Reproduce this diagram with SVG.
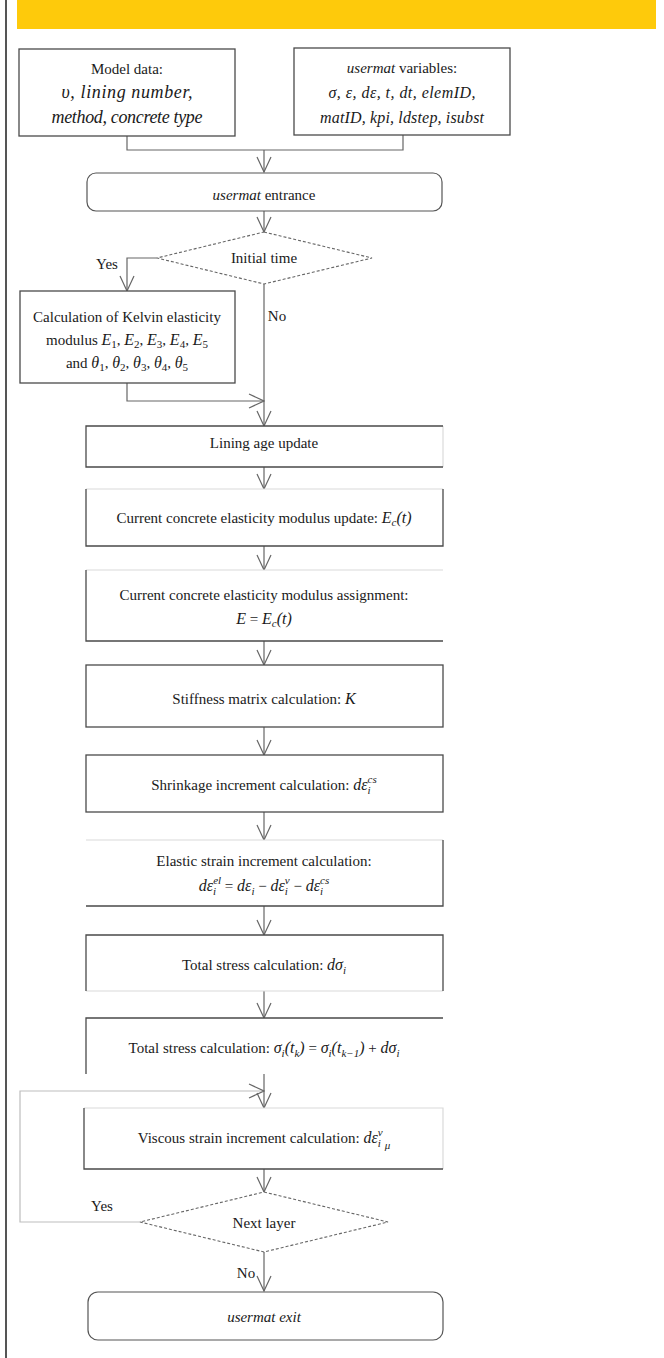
<svg xmlns="http://www.w3.org/2000/svg" width="664" height="1358" viewBox="0 0 664 1358">
<style>
.bg{fill:#fff;stroke:none}
.edge{fill:none;stroke:#4a4a4a;stroke-width:1.3}
.faint{fill:none;stroke:#dadada;stroke-width:1.2}
.rr{fill:#fff;stroke:#555;stroke-width:1.2}
.dia{fill:#fff;stroke:#666;stroke-width:1.1;stroke-dasharray:3 2}
.t{font-family:"Liberation Serif","Times New Roman",serif;font-size:15px;fill:#1a1a1a;text-anchor:middle}
.mt{font-family:"Liberation Serif","Times New Roman",serif;font-size:18px;font-style:italic;fill:#1a1a1a;text-anchor:middle}
.mr{font-size:16px}
.m{font-style:italic;font-size:16px}
.s{font-size:11px}
.conn{fill:none;stroke:#666;stroke-width:1.2}
.loop{fill:none;stroke:#bdbdbd;stroke-width:1.2}
</style>
<defs>
<marker id="arr" viewBox="-16 -8 17 16" refX="0" refY="0" markerWidth="17" markerHeight="16" markerUnits="userSpaceOnUse" orient="auto">
<path d="M-15,-7 L0,0 L-15,7" fill="none" stroke="#666" stroke-width="1.2"/>
</marker>
</defs>

<rect x="17" y="0" width="639" height="29" fill="#FECA0B"/>
<line x1="6" y1="0" x2="6" y2="1358" stroke="#555" stroke-width="2"/>

<g id="connectors">
<path class="conn" d="M127,136 V150 H403 V135"/>
<path class="conn" d="M264,150 V172" marker-end="url(#arr)"/>
<path class="conn" d="M264,211 V232" marker-end="url(#arr)"/>
<path class="conn" d="M157,258 H127 V291" marker-end="url(#arr)"/>
<path class="conn" d="M127,383 V401 H264" marker-end="url(#arr)"/>
<path class="conn" d="M264,284 V426" marker-end="url(#arr)"/>
<path class="conn" d="M264,467 V489" marker-end="url(#arr)"/>
<path class="conn" d="M264,546 V570" marker-end="url(#arr)"/>
<path class="conn" d="M264,641 V665" marker-end="url(#arr)"/>
<path class="conn" d="M264,727 V755" marker-end="url(#arr)"/>
<path class="conn" d="M264,812 V840" marker-end="url(#arr)"/>
<path class="conn" d="M264,906 V935" marker-end="url(#arr)"/>
<path class="conn" d="M264,991 V1018" marker-end="url(#arr)"/>
<path class="conn" d="M264,1074 V1108" marker-end="url(#arr)"/>
<path class="loop" d="M140,1222 H20 V1091 H264" marker-end="url(#arr)"/>
<path class="conn" d="M264,1169 V1192" marker-end="url(#arr)"/>
<path class="conn" d="M264,1252 V1291" marker-end="url(#arr)"/>
<text class="t" x="107" y="269">Yes</text>
<text class="t" x="277" y="321">No</text>
<text class="t" x="102" y="1211">Yes</text>
<text class="t" x="246" y="1278">No</text>
</g>

<g id="model-data">
<rect class="bg" x="19" y="49" width="216" height="87"/>
<rect class="edge" x="19" y="49" width="216" height="87"/>
<text class="t" x="127" y="74">Model data:</text>
<text class="mt" x="127" y="98" textLength="131" lengthAdjust="spacing">υ, lining number,</text>
<text class="mt" x="127" y="123" textLength="151" lengthAdjust="spacing">method, concrete type</text>
</g>

<g id="usermat-variables">
<rect class="bg" x="294" y="48" width="216" height="87"/>
<rect class="edge" x="294" y="48" width="216" height="87"/>
<text class="t" x="402" y="73"><tspan font-style="italic">usermat</tspan> variables:</text>
<text class="mt mr" x="402" y="98" textLength="147" lengthAdjust="spacing">σ, ε, dε, t, dt, elemID,</text>
<text class="mt mr" x="402" y="123" textLength="164" lengthAdjust="spacing">matID, kpi, ldstep, isubst</text>
</g>

<g id="usermat-entrance">
<rect class="rr" x="87" y="173" width="355" height="38" rx="9"/>
<text class="t" x="264" y="200"><tspan font-style="italic">usermat</tspan> entrance</text>
</g>

<g id="initial-time">
<polygon class="dia" points="264,232 372,258 264,284 157,258"/>
<text class="t" x="264" y="263">Initial time</text>
</g>

<g id="kelvin">
<rect class="bg" x="20" y="291" width="215" height="92"/>
<rect class="edge" x="20" y="291" width="215" height="92"/>
<text class="t" x="127" y="322">Calculation of Kelvin elasticity</text>
<text class="t" x="127" y="345">modulus <tspan class="m">E</tspan><tspan class="s" dy="3">1</tspan><tspan dy="-3">, </tspan><tspan class="m">E</tspan><tspan class="s" dy="3">2</tspan><tspan dy="-3">, </tspan><tspan class="m">E</tspan><tspan class="s" dy="3">3</tspan><tspan dy="-3">, </tspan><tspan class="m">E</tspan><tspan class="s" dy="3">4</tspan><tspan dy="-3">, </tspan><tspan class="m">E</tspan><tspan class="s" dy="3">5</tspan></text>
<text class="t" x="127" y="368">and <tspan class="m">θ</tspan><tspan class="s" dy="3">1</tspan><tspan dy="-3">, </tspan><tspan class="m">θ</tspan><tspan class="s" dy="3">2</tspan><tspan dy="-3">, </tspan><tspan class="m">θ</tspan><tspan class="s" dy="3">3</tspan><tspan dy="-3">, </tspan><tspan class="m">θ</tspan><tspan class="s" dy="3">4</tspan><tspan dy="-3">, </tspan><tspan class="m">θ</tspan><tspan class="s" dy="3">5</tspan></text>
</g>

<g id="lining-age">
<rect class="bg" x="86" y="426" width="357" height="41"/>
<path class="faint" d="M443,426 V467"/>
<path class="edge" d="M443,426 H86 V467 H443"/>
<text class="t" x="264" y="448">Lining age update</text>
</g>

<g id="modulus-update">
<rect class="bg" x="86" y="489" width="357" height="57"/>
<path class="faint" d="M86,489 H443"/>
<path class="edge" d="M443,489 V546 H86 V489"/>
<text class="t" x="264" y="523">Current concrete elasticity modulus update: <tspan class="m">E</tspan><tspan class="s m" dy="3">c</tspan><tspan class="m" dy="-3">(t)</tspan></text>
</g>

<g id="modulus-assignment">
<rect class="bg" x="86" y="570" width="357" height="71"/>
<path class="faint" d="M86,570 H443"/>
<path class="edge" d="M86,570 V641 H443"/>
<text class="t" x="264" y="600">Current concrete elasticity modulus assignment:</text>
<text class="t" x="264" y="624"><tspan class="m">E</tspan> = <tspan class="m">E</tspan><tspan class="s m" dy="3">c</tspan><tspan class="m" dy="-3">(t)</tspan></text>
</g>

<g id="stiffness">
<rect class="bg" x="86" y="665" width="357" height="62"/>
<rect class="edge" x="86" y="665" width="357" height="62"/>
<text class="t" x="264" y="704">Stiffness matrix calculation: <tspan class="m">K</tspan></text>
</g>

<g id="shrinkage">
<rect class="bg" x="86" y="755" width="357" height="57"/>
<rect class="edge" x="86" y="755" width="357" height="57"/>
<text class="t" x="264" y="790">Shrinkage increment calculation: <tspan class="m">dε</tspan><tspan class="s m" dy="4">i</tspan><tspan class="s m" dx="-3" dy="-11">cs</tspan></text>
</g>

<g id="elastic-strain">
<rect class="bg" x="86" y="840" width="357" height="66"/>
<path class="faint" d="M86,840 H443"/>
<path class="edge" d="M443,840 V906 H86"/>
<text class="t" x="264" y="866">Elastic strain increment calculation:</text>
<text class="t" x="264" y="891"><tspan class="m">dε</tspan><tspan class="s m" dy="4">i</tspan><tspan class="s m" dx="-3" dy="-11">el</tspan><tspan dy="7"> = </tspan><tspan class="m">dε</tspan><tspan class="s m" dy="4">i</tspan><tspan dy="-4"> − </tspan><tspan class="m">dε</tspan><tspan class="s m" dy="4">i</tspan><tspan class="s m" dx="-3" dy="-11">v</tspan><tspan dy="7"> − </tspan><tspan class="m">dε</tspan><tspan class="s m" dy="4">i</tspan><tspan class="s m" dx="-3" dy="-11">cs</tspan></text>
</g>

<g id="total-stress-increment">
<rect class="bg" x="86" y="935" width="357" height="56"/>
<path class="faint" d="M86,991 H443"/>
<path class="edge" d="M86,991 V935 H443 V991"/>
<text class="t" x="264" y="970">Total stress calculation: <tspan class="m">dσ</tspan><tspan class="s m" dy="4">i</tspan></text>
</g>

<g id="total-stress">
<rect class="bg" x="86" y="1018" width="357" height="56"/>
<path class="edge" d="M86,1074 V1018 H443"/>
<text class="t" x="264" y="1053">Total stress calculation: <tspan class="m">σ</tspan><tspan class="s m" dy="4">i</tspan><tspan class="m" dy="-4">(t</tspan><tspan class="s m" dy="4">k</tspan><tspan class="m" dy="-4">)</tspan> = <tspan class="m">σ</tspan><tspan class="s m" dy="4">i</tspan><tspan class="m" dy="-4">(t</tspan><tspan class="s m" dy="4">k−1</tspan><tspan class="m" dy="-4">)</tspan> + <tspan class="m">dσ</tspan><tspan class="s m" dy="4">i</tspan></text>
</g>

<g id="viscous-strain">
<rect class="bg" x="84" y="1108" width="359" height="61"/>
<path class="faint" d="M84,1108 H443 V1169"/>
<path class="edge" d="M84,1108 V1169 H443"/>
<text class="t" x="264" y="1143">Viscous strain increment calculation: <tspan class="m">dε</tspan><tspan class="s m" dy="4">i</tspan><tspan class="s m" dx="-3" dy="-11">v</tspan><tspan class="s m" dx="2" dy="13">μ</tspan></text>
</g>

<g id="next-layer">
<polygon class="dia" points="264,1192 388,1222 264,1252 140,1222"/>
<text class="t" x="264" y="1228">Next layer</text>
</g>

<g id="usermat-exit">
<rect class="rr" x="88" y="1292" width="355" height="48" rx="10"/>
<text class="t" x="264" y="1322" font-style="italic">usermat exit</text>
</g>
</svg>
